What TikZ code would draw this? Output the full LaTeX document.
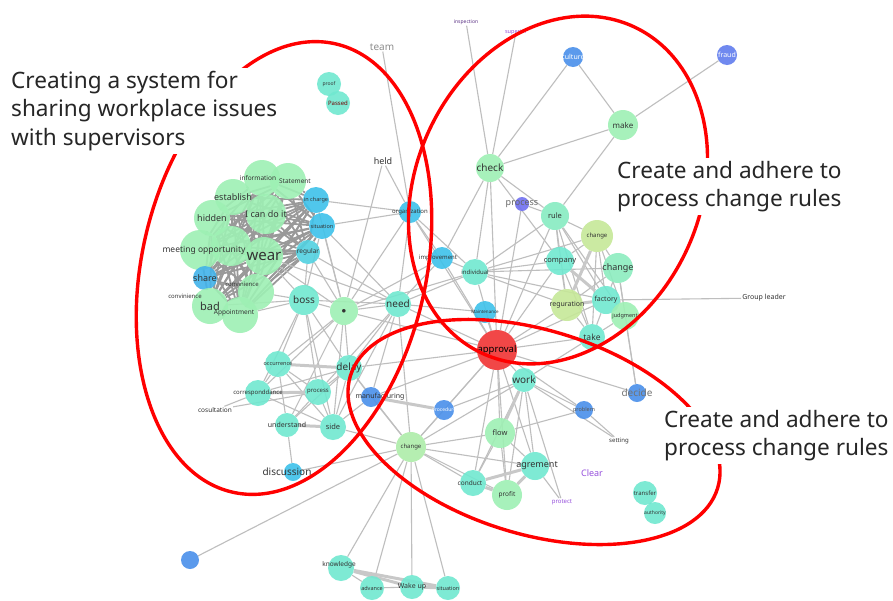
\documentclass[tikz,border=0pt]{standalone}
\usepackage{fontspec}
\setmainfont{Noto Sans}
\usetikzlibrary{positioning}
\definecolor{nmint}{RGB}{158,240,180}
\definecolor{nteal}{RGB}{112,232,208}
\definecolor{ncyan}{RGB}{62,194,234}
\definecolor{nblue}{RGB}{74,144,234}
\definecolor{nlime}{RGB}{198,232,152}
\definecolor{nred}{RGB}{240,52,52}
\definecolor{nviolet}{RGB}{112,112,240}
\definecolor{egray}{RGB}{190,190,190}
\definecolor{ringred}{RGB}{255,0,0}
\definecolor{wpurple}{RGB}{150,80,220}
\newcommand\fsz[1]{\fontsize{#1}{#1}\selectfont}
\pgfdeclarelayer{bg}
\pgfsetlayers{bg,main}

\begin{document}
\begin{tikzpicture}[x=1pt,y=-1pt,
    vx/.style={circle,inner sep=0pt,minimum size=#1,fill opacity=.9,text opacity=1},
    gn/.style={vx=#1,fill=nmint},
    tl/.style={vx=#1,fill=nteal},
    cy/.style={vx=#1,fill=ncyan},
    bl/.style={vx=#1,fill=nblue},
    lm/.style={vx=#1,fill=nlime},
    lbl/.style={inner sep=0pt,text=black!80},
    tx/.style={inner sep=1pt,text=black!80},
    edge/.style={draw=egray,line width=1.1pt},
    thk/.style={draw=egray!85,line width=3pt},
    ring/.style={draw=ringred,line width=3.4pt},
    callout/.style={align=left,fill=white,inner sep=3pt,font=\fontsize{22.6}{28.5}\selectfont,text=black!85}]
  \useasboundingbox (0,0) rectangle (893,600);

  % left cluster
  \node[gn=36] (info) at (262,178) {};
  \node[gn=36,label={[lbl,xshift=7pt]center:\fsz{6.5}\bfseries Statement},
    label={[lbl,xshift=-30pt,yshift=3pt]center:\fsz{6.5}\bfseries information}] (stmt) at (288,181) {};
  \node[gn=36,label={[lbl]center:\fsz{9}establish}] (estab) at (233,197) {};
  \node[gn=36,label={[lbl]center:\fsz{9}hidden}] (hidden) at (212,218) {};
  \node[gn=40,label={[lbl]center:\fsz{9}I can do it}] (icando) at (266,214) {};
  \node[gn=40] (meet2) at (231,246) {};
  \node[gn=40,label={[lbl,xshift=4pt]center:\fsz{8.5}meeting opportunity}] (meet) at (200,250) {};
  \node[gn=38,label={[lbl]center:\fsz{15}wear}] (wear) at (264,256) {};
  \node[cy=26,label={[lbl]center:\fsz{5.5}in charge}] (incharge) at (316,200) {};
  \node[cy=26,label={[lbl]center:\fsz{5.5}situation}] (situ) at (322,226) {};
  \node[vx=24,fill=ncyan!60!nteal,label={[lbl]center:\fsz{6.5}regular}] (regular) at (308,252) {};
  \node[bl=24,fill=ncyan!70!nblue,label={[lbl]center:\fsz{9}share}] (share) at (205,278) {};
  \node[gn=36,label={[lbl]center:\fsz{11}bad}] (bad) at (210,306) {};
  \node[gn=36,label={[lbl,xshift=-14pt,yshift=8pt]center:\fsz{6}\bfseries convinience}] (conv) at (256,292) {};
  \node[gn=36,label={[lbl,xshift=-6pt,yshift=2pt]center:\fsz{6.5}Appointment}] (appt) at (240,315) {};
  \node[tx,font=\fsz{6}\bfseries] (conv2) at (185,296) {convinience};
  \node[tl=30,label={[lbl]center:\fsz{10}boss}] (boss) at (304,300) {};
  \node[gn=28,label={[lbl]center:\fsz{9}$\bullet$}] (hub) at (344,311) {};
  \node[tl=26,label={[lbl]center:\fsz{10}need}] (need) at (398,304) {};
  \node[tx,text=black!45,font=\fsz{10}] (team) at (382,47) {team};
  \node[tx,font=\fsz{9}] (held) at (383,161) {held};
  \node[cy=22,label={[lbl]center:\fsz{6}\bfseries organization}] (org) at (410,212) {};
  \node[tl=24,label={[lbl]center:\fsz{5}proof}] (proof) at (329,84) {};
  \node[tl=24,label={[lbl,text=red!45!black]center:\fsz{6}Passed}] (passed) at (338,103) {};

  % upper right
  \node[tx,text=wpurple!60!black,font=\fsz{5}] (inspect) at (466,22) {inspection};
  \node[tx,text=wpurple,font=\fsz{5.5}] (superior) at (516,32) {superior};
  \node[bl=20,label={[lbl,text=white]center:\fsz{7}culture}] (culture) at (573,57) {};
  \node[vx=20,fill=nviolet!60!nblue,label={[lbl,text=white]center:\fsz{7}fraud}] (fraud) at (727,55) {};
  \node[gn=30,label={[lbl]center:\fsz{8}make}] (make) at (623,125) {};
  \node[gn=28,label={[lbl]center:\fsz{10}\bfseries check}] (check) at (490,168) {};
  \node[vx=28,fill=nteal!50!nmint,label={[lbl]center:\fsz{7.5}rule}] (rule) at (555,216) {};
  \node[vx=14,fill=nviolet,label={[lbl,text=black!60]center:\fsz{9}process}] (procT) at (522,204) {};
  \node[lm=32,label={[lbl]center:\fsz{6}change}] (chgY) at (597,236) {};
  \node[tl=28,label={[lbl]center:\fsz{7.5}\bfseries company}] (company) at (560,261) {};
  \node[vx=30,fill=nmint!60!nteal,label={[lbl]center:\fsz{9}change}] (chgR) at (618,268) {};
  \node[tl=26,label={[lbl]center:\fsz{6}individual}] (indiv) at (475,272) {};
  \node[cy=22,label={[lbl,xshift=-4pt]center:\fsz{6}\bfseries improvement}] (improv) at (442,258) {};
  \node[cy=22,label={[lbl]center:\fsz{4.5}Maintenance}] (maint) at (485,312) {};
  \node[tl=28,label={[lbl]center:\fsz{7}factory}] (factory) at (606,300) {};
  \node[gn=28,label={[lbl]center:\fsz{5.5}judgment}] (judg) at (625,316) {};
  \node[lm=32,label={[lbl]center:\fsz{7}\bfseries reguration}] (regur) at (567,305) {};
  \node[tl=26,label={[lbl]center:\fsz{8.5}take}] (take) at (592,337) {};
  \node[tx,font=\fsz{7}\bfseries] (glead) at (764,298) {Group leader};

  % lower part
  \node[vx=40,fill=nred,label={[lbl,text=black]center:\fsz{9.5}\bfseries approval}] (approval) at (497,350) {};
  \node[bl=18,label={[lbl,text=black!55]center:\fsz{10}decide}] (decide) at (637,393) {};
  \node[tl=24,label={[lbl]center:\fsz{10}work}] (work) at (524,380) {};
  \node[bl=20,label={[lbl,xshift=9pt]center:\fsz{7}\bfseries manufacturing}] (manuf) at (371,397) {};
  \node[bl=20,label={[lbl,text=white]center:\fsz{5}procedure}] (posit) at (444,410) {};
  \node[bl=18,label={[lbl,text=black!65]center:\fsz{5.5}problem}] (problem) at (584,410) {};
  \node[tx,font=\fsz{6}] (setting) at (619,441) {setting};
  \node[gn=30,label={[lbl]center:\fsz{7.5}flow}] (flow) at (500,433) {};
  \node[vx=30,fill=nmint!60!nlime,label={[lbl]center:\fsz{6}change}] (chgL) at (411,447) {};
  \node[tl=28,label={[lbl,xshift=2pt]center:\fsz{9}\bfseries agrement}] (agre) at (535,466) {};
  \node[tx,text=wpurple,font=\fsz{9}] (clear) at (592,473) {Clear};
  \node[tl=26,label={[lbl,xshift=-3pt]center:\fsz{6.5}\bfseries conduct}] (conduct) at (473,483) {};
  \node[gn=30,label={[lbl]center:\fsz{6.5}\bfseries profit}] (profit) at (507,495) {};
  \node[tx,text=wpurple,font=\fsz{6}] (protect) at (562,502) {protect};
  \node[tl=24,label={[lbl]center:\fsz{6}transfer}] (transfer) at (645,493) {};
  \node[tl=22,label={[lbl]center:\fsz{5}authority}] (auth) at (655,513) {};
  \node[tl=26,label={[lbl,xshift=-2pt,yshift=3pt]center:\fsz{6.5}\bfseries knowledge}] (knowl) at (341,568) {};
  \node[tl=24,label={[lbl]center:\fsz{5.5}advance}] (advance) at (372,588) {};
  \node[tl=24,label={[lbl]center:\fsz{5.5}situation}] (situ2) at (448,588) {};
  \node[tl=24,label={[lbl]center:\fsz{7}\bfseries Wake up}] (wakeup) at (412,587) {};
  \node[cy=18,label={[lbl,xshift=-6pt]center:\fsz{10}discussion}] (disc) at (293,472) {};
  \node[bl=18] (lone) at (190,560) {};

  % lower left cluster
  \node[tl=26,label={[lbl]center:\fsz{5.5}\bfseries occurrence}] (occur) at (278,364) {};
  \node[tl=26,label={[lbl]center:\fsz{10}delay}] (delay) at (349,368) {};
  \node[tl=26,label={[lbl]center:\fsz{6}process}] (procL) at (318,392) {};
  \node[tl=26,label={[lbl]center:\fsz{6}\bfseries corresponddance}] (corr) at (258,393) {};
  \node[tx,font=\fsz{6.5}\bfseries] (cosult) at (215,410) {cosultation};
  \node[tl=24,label={[lbl]center:\fsz{7}\bfseries understand}] (under) at (287,425) {};
  \node[tl=26,label={[lbl]center:\fsz{7.5}\bfseries side}] (side) at (333,427) {};

  \begin{pgfonlayer}{bg}
    \fill[white] (0,0) rectangle (893,600);
    % dense mesh of the left cluster
    \foreach \a [count=\i] in {info,stmt,estab,hidden,icando,meet,meet2,wear,share,conv,bad,appt,incharge,situ,regular}
      \foreach \b [count=\j] in {info,stmt,estab,hidden,icando,meet,meet2,wear,share,conv,bad,appt,incharge,situ,regular}
        {\ifnum\j>\i \draw[edge,line width=1.8pt,draw=black!40] (\a) -- (\b); \fi}
    \foreach \a/\b in {boss/hub,boss/need,boss/delay,boss/occur,boss/procL,boss/side,boss/wear,boss/bad,
        boss/situ,boss/regular,boss/conv,boss/appt,boss/corr,hub/need,hub/delay,hub/side,hub/under,
        hub/corr,hub/wear,hub/incharge,hub/situ,hub/org,hub/approval,hub/indiv,hub/improv,hub/held,
        hub/occur,hub/regular,need/org,need/improv,need/indiv,need/maint,need/approval,need/delay,
        need/regular,need/manuf,need/chgL,need/situ,need/wear,need/procL,need/side,team/org,held/org,
        org/situ,org/incharge,org/indiv,org/approval,org/improv,check/inspect,check/superior,
        check/culture,check/make,check/improv,check/rule,check/company,check/approval,check/indiv,
        make/culture,make/fraud,make/rule,procT/approval,procT/rule,rule/company,rule/chgY,rule/regur,
        rule/factory,rule/take,rule/indiv,rule/approval,rule/judg,chgY/company,chgY/factory,chgY/take,
        chgY/chgR,chgY/judg,company/regur,company/take,company/indiv,company/approval,chgR/factory,
        chgR/judg,chgR/regur,chgR/decide,indiv/regur,indiv/factory,indiv/approval,indiv/improv,
        indiv/chgR,indiv/chgY,regur/take,regur/approval,factory/take,factory/glead,factory/approval,
        judg/take,judg/decide,take/approval,take/work,approval/work,approval/flow,approval/agre,
        approval/profit,approval/conduct,approval/chgL,approval/maint,approval/improv,approval/manuf,
        approval/decide,approval/problem,approval/posit,approval/delay,work/flow,work/agre,work/profit,
        work/conduct,work/chgL,work/problem,work/protect,work/setting,work/posit,problem/setting,
        problem/flow,flow/chgL,flow/agre,flow/profit,flow/conduct,chgL/manuf,chgL/posit,chgL/conduct,
        chgL/agre,chgL/profit,chgL/knowl,chgL/advance,chgL/wakeup,chgL/situ2,chgL/disc,chgL/lone,
        chgL/side,chgL/delay,agre/protect,knowl/advance,advance/wakeup,occur/corr,occur/procL,
        occur/under,occur/side,corr/delay,corr/side,corr/cosult,procL/delay,procL/under,procL/side,
        delay/side,delay/manuf,delay/under,cosult/procL,side/manuf,delay/occur,under/disc,transfer/auth}
      \draw[edge] (\a) -- (\b);
    % heavier links
    \foreach \a/\b in {occur/delay,corr/procL,under/side,manuf/posit,knowl/situ2,knowl/wakeup,
        wakeup/situ2,chgY/regur,regur/factory,factory/judg,company/factory,agre/conduct,agre/profit,
        conduct/profit,flow/work}
      \draw[thk] (\a) -- (\b);
  \end{pgfonlayer}

  % the three groupings
  \draw[ring] (284,268) ellipse [x radius=142, y radius=230, rotate=-13];
  \draw[ring] (558,190) ellipse [x radius=142, y radius=180, rotate=-25];
  \draw[ring] (534,432) ellipse [x radius=192, y radius=102, rotate=-17];

  \node[callout,anchor=north west] (grpA) at (8,68) {Creating a system for\\sharing workplace issues\\with supervisors};
  \node[callout,anchor=north west] (grpB) at (614,158) {Create and adhere to\\process change rules};
  \node[callout,anchor=north west] (grpC) at (661,407) {Create and adhere to\\process change rules};
\end{tikzpicture}
\end{document}
